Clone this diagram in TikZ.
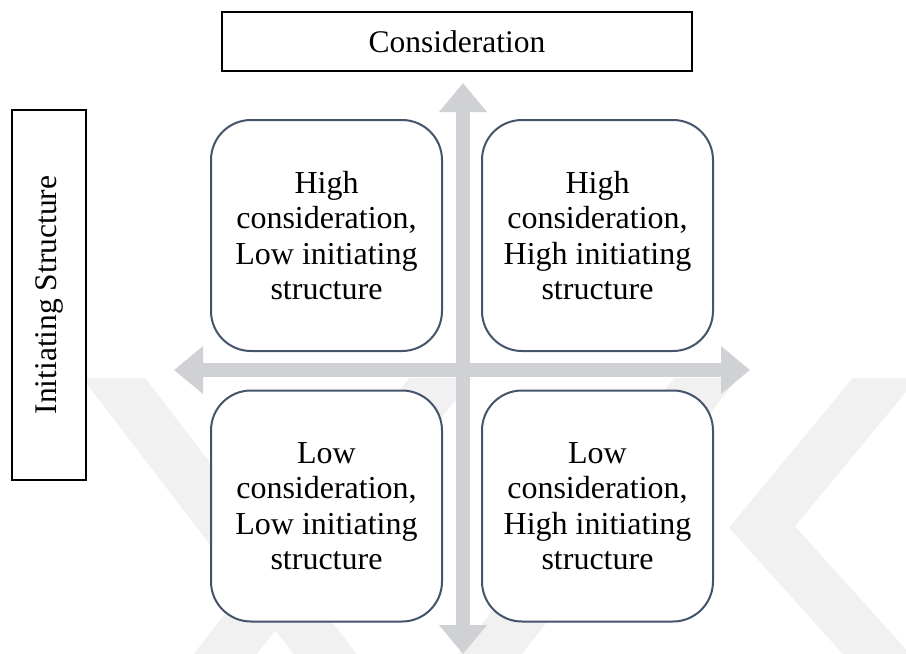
\documentclass[tikz,border=0pt]{standalone}
\usepackage{fontspec}
\setmainfont{Liberation Serif}
\usetikzlibrary{arrows.meta}
\definecolor{axisgray}{HTML}{D0D1D5}
\definecolor{boxline}{HTML}{44546A}
\definecolor{wmgray}{HTML}{F1F1F1}
\begin{document}
\begin{tikzpicture}[x=1pt,y=-1pt,
  quadbox/.style={draw=boxline, line width=2pt, fill=white, rounded corners=40pt,
    minimum width=231pt, minimum height=231pt, align=center, inner sep=0pt,
    font=\fontsize{32}{35.5}\selectfont},
  titlebox/.style={draw=black, line width=1.3pt, fill=white, inner sep=0pt,
    font=\fontsize{31.5}{36}\selectfont},
  axisarrow/.style={draw=axisgray, line width=14pt,
    {Triangle[width=46pt,length=29pt]}-{Triangle[width=46pt,length=29pt]}},
  wmband/.style={draw=wmgray, line width=50pt}]
\useasboundingbox (0,0) rectangle (906,654);
% faint background watermark
\begin{scope}
  \clip (0,378) rectangle (906,654);
  \draw[wmband] (100,360) -- (345,680);
  \draw[wmband] (205,680) -- (455,360);
  \draw[wmband] (470,680) -- (720,360);
  \draw[wmband] (900,360) -- (762,527) -- (900,680);
\end{scope}
% axes
\coordinate (vtop) at (463,83);
\coordinate (vbot) at (463,654);
\coordinate (hleft) at (174,370);
\coordinate (hright) at (750,370);
\draw[axisarrow] (vbot) -- (vtop);
\draw[axisarrow] (hleft) -- (hright);
% titles
\node[titlebox, minimum width=470pt, minimum height=59pt] (cons) at (457,41.5) {Consideration};
\node[titlebox, minimum width=370pt, minimum height=74pt, rotate=90] (init) at (49,295) {Initiating Structure};
% quadrants
\node[quadbox] (tl) at (326.5,235.5) {High\\consideration,\\Low initiating\\structure};
\node[quadbox] (tr) at (597.5,235.5) {High\\consideration,\\High initiating\\structure};
\node[quadbox] (bl) at (326.5,506) {Low\\consideration,\\Low initiating\\structure};
\node[quadbox] (br) at (597.5,506) {Low\\consideration,\\High initiating\\structure};
\end{tikzpicture}
\end{document}
